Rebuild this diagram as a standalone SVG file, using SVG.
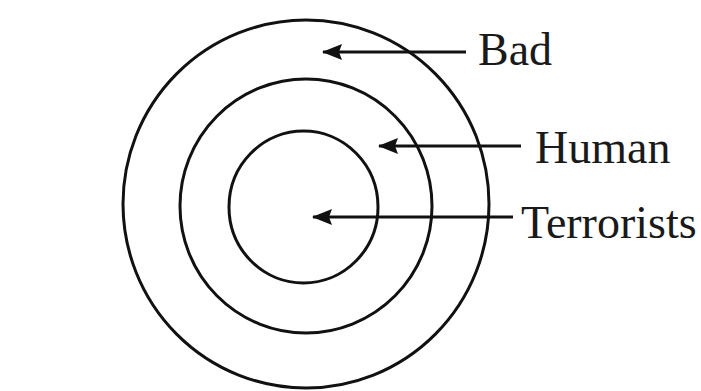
<svg xmlns="http://www.w3.org/2000/svg" width="701" height="391" viewBox="0 0 701 391">
<style>
.ring{fill:none;stroke:#111;stroke-width:3}
.lead{stroke:#111;stroke-width:3;fill:none}
.lbl{font-family:"Liberation Serif","Times New Roman",serif;font-size:46px;fill:#1a1a1a}
</style>
<defs>
<marker id="ah" viewBox="0 0 20 16" refX="19" refY="8" markerWidth="20" markerHeight="16" markerUnits="userSpaceOnUse" orient="auto">
<path d="M20,8 L0,0 L3,8 L0,16 Z" fill="#111"/>
</marker>
</defs>
<rect width="701" height="391" fill="#fff"/>
<g id="bad"><ellipse class="ring" cx="306" cy="204" rx="183" ry="184"/><text class="lbl" x="478" y="65">Bad</text></g>
<g id="human"><ellipse class="ring" cx="306" cy="206" rx="126" ry="127"/><text class="lbl" x="535" y="163">Human</text></g>
<g id="terrorists"><ellipse class="ring" cx="303.5" cy="207" rx="74.5" ry="76"/><text class="lbl" x="521" y="238">Terrorists</text></g>
<g id="connectors">
<line class="lead" x1="466" y1="52" x2="323" y2="52" marker-end="url(#ah)"/>
<line class="lead" x1="521" y1="146" x2="379" y2="146" marker-end="url(#ah)"/>
<line class="lead" x1="513" y1="217" x2="313" y2="217" marker-end="url(#ah)"/>
</g>
</svg>
